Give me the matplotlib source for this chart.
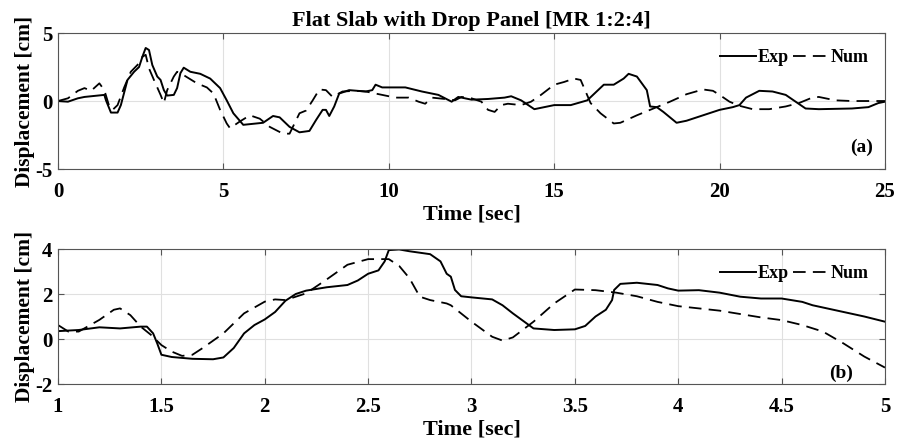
import matplotlib.pyplot as plt
import numpy as np

plt.rcParams['font.family'] = ['Liberation Serif', 'DejaVu Serif']
plt.rcParams['font.weight'] = 'bold'

# panel (a): full record
t_exp_a = [0, 0.3, 0.6, 0.8, 1.2, 1.4, 1.45, 1.6, 1.8, 1.9, 2.1, 2.3, 2.45, 2.55, 2.65, 2.75, 2.85,
           3.0, 3.1, 3.2, 3.3, 3.5, 3.6, 3.7, 3.8, 4.0, 4.3, 4.6, 4.9, 5.1, 5.3, 5.6, 5.8, 6.2, 6.5,
           6.7, 7.0, 7.3, 7.6, 7.8, 8.0, 8.1, 8.2, 8.35, 8.5, 8.8, 9.3, 9.5, 9.6, 9.8, 10.5, 11.0,
           11.5, 11.9, 12.1, 12.5, 13.0, 13.5, 13.7, 14.0, 14.4, 14.8, 15.0, 15.5, 16.0, 16.5, 16.8,
           17.1, 17.25, 17.5, 17.8, 17.9, 18.1, 18.3, 18.7, 19.0, 19.5, 20.0, 20.4, 20.6, 20.8, 21.2,
           21.6, 22.0, 22.3, 22.6, 23.0, 24.0, 24.5, 24.8, 25.0]
d_exp_a = [0, -0.05, 0.2, 0.3, 0.4, 0.45, 0.05, -0.85, -0.85, -0.3, 1.55, 2.15, 2.5, 3.25, 3.9, 3.75,
           2.65, 1.8, 1.55, 0.8, 0.4, 0.45, 0.95, 2.05, 2.45, 2.15, 2.0, 1.65, 0.95, 0.05, -0.9,
           -1.75, -1.7, -1.6, -1.1, -1.2, -1.9, -2.3, -2.2, -1.4, -0.65, -0.65, -1.1, -0.4, 0.55,
           0.8, 0.7, 0.8, 1.2, 1.0, 1.0, 0.7, 0.45, -0.05, 0.3, 0.1, 0.15, 0.25, 0.35, 0.05, -0.6,
           -0.4, -0.3, -0.3, 0.05, 1.2, 1.2, 1.65, 2.0, 1.8, 0.8, -0.4, -0.45, -0.8, -1.6, -1.45,
           -1.05, -0.65, -0.45, -0.3, 0.25, 0.75, 0.7, 0.45, -0.05, -0.55, -0.6, -0.55, -0.45,
           -0.15, -0.05]

t_num_a = [0, 0.3, 0.6, 0.8, 1.0, 1.25, 1.4, 1.55, 1.65, 1.8, 2.0, 2.2, 2.4, 2.55, 2.65, 2.75, 2.9,
           3.1, 3.2, 3.3, 3.5, 3.6, 3.8, 4.2, 4.5, 4.7, 4.9, 5.1, 5.2, 5.5, 5.8, 6.1, 6.4, 6.8, 7.0,
           7.3, 7.5, 7.7, 7.9, 8.1, 8.3, 8.6, 9.0, 9.3, 9.7, 10.2, 10.6, 10.9, 11.1, 11.3, 11.7,
           12.0, 12.2, 12.5, 12.8, 13.0, 13.2, 13.4, 13.6, 14.0, 14.3, 14.6, 15.0, 15.3, 15.6, 15.8,
           16.1, 16.4, 16.8, 17.0, 17.5, 18.0, 18.5, 19.0, 19.5, 19.8, 20.0, 20.3, 20.6, 21.0, 21.5,
           22.0, 22.4, 22.8, 23.0, 23.5, 24.0, 25.0]
d_num_a = [0, 0.2, 0.75, 0.95, 0.75, 1.3, 0.8, -0.4, -0.65, -0.3, 1.0, 2.15, 2.65, 3.25, 3.4, 2.4,
           1.55, 0.45, -0.15, 0.8, 1.8, 2.15, 1.9, 1.3, 1.0, 0.55, -0.65, -1.65, -2.0, -1.5, -1.05,
           -1.3, -1.9, -2.4, -2.4, -0.9, -0.7, 0.05, 0.85, 0.8, 0.3, 0.7, 0.75, 0.7, 0.5, 0.25,
           0.25, -0.05, -0.2, 0.25, 0.15, 0.05, 0.3, 0.2, -0.05, -0.65, -0.8, -0.3, -0.2, -0.3,
           -0.05, 0.45, 1.2, 1.4, 1.65, 1.55, -0.15, -0.9, -1.65, -1.6, -1.05, -0.55, -0.05, 0.5,
           0.85, 0.75, 0.45, -0.05, -0.35, -0.6, -0.6, -0.4, -0.15, 0.25, 0.3, 0.05, 0, 0]

# panel (b): zoom 1-5 s
t_exp_b = [1.0, 1.1, 1.2, 1.3, 1.4, 1.43, 1.46, 1.48, 1.5, 1.55, 1.65, 1.75, 1.8, 1.85, 1.9, 1.95,
           2.0, 2.05, 2.1, 2.15, 2.2, 2.3, 2.4, 2.45, 2.5, 2.55, 2.58, 2.6, 2.65, 2.7, 2.8, 2.85,
           2.88, 2.9, 2.92, 2.95, 3.0, 3.1, 3.15, 3.2, 3.3, 3.4, 3.5, 3.55, 3.6, 3.65, 3.68, 3.69,
           3.72, 3.8, 3.9, 3.95, 4.0, 4.1, 4.2, 4.3, 4.4, 4.5, 4.6, 4.65, 4.8, 4.9, 5.0]
d_exp_b = [0.35, 0.4, 0.52, 0.47, 0.55, 0.55, 0.25, -0.2, -0.7, -0.8, -0.88, -0.9, -0.82, -0.4,
           0.25, 0.62, 0.87, 1.2, 1.7, 2.0, 2.15, 2.3, 2.4, 2.6, 2.9, 3.05, 3.45, 3.95, 3.98, 3.9,
           3.77, 3.45, 2.9, 2.77, 2.18, 1.9, 1.85, 1.76, 1.5, 1.14, 0.47, 0.4, 0.43, 0.58, 1.0, 1.3,
           1.73, 2.18, 2.45, 2.5, 2.4, 2.25, 2.15, 2.17, 2.06, 1.88, 1.8, 1.8, 1.65, 1.5, 1.2, 1.0,
           0.77]

t_num_b = [1.0, 1.05, 1.1, 1.2, 1.27, 1.3, 1.35, 1.4, 1.45, 1.5, 1.55, 1.6, 1.65, 1.7, 1.8, 1.9,
           2.0, 2.05, 2.1, 2.2, 2.3, 2.4, 2.5, 2.6, 2.65, 2.7, 2.75, 2.8, 2.88, 2.9, 3.0, 3.1, 3.15,
           3.2, 3.3, 3.4, 3.5, 3.6, 3.7, 3.8, 3.9, 4.0, 4.2, 4.4, 4.5, 4.6, 4.7, 4.8, 4.9, 5.0]
d_num_b = [0.62, 0.33, 0.33, 0.85, 1.3, 1.36, 1.06, 0.55, 0.18, -0.27, -0.56, -0.75, -0.7, -0.4,
           0.25, 1.14, 1.66, 1.76, 1.73, 2.03, 2.65, 3.3, 3.55, 3.55, 3.25, 2.7, 1.88, 1.73, 1.58,
           1.5, 0.77, 0.1, -0.07, 0.07, 0.77, 1.58, 2.2, 2.17, 2.06, 1.9, 1.65, 1.46, 1.26, 0.96,
           0.84, 0.62, 0.33, -0.2, -0.78, -1.27]


def style_axes(ax, xlim, ylim, xticks, yticks, tag, tag_pos):
    ax.set_xlim(xlim)
    ax.set_ylim(ylim)
    ax.set_xticks(xticks)
    ax.set_yticks(yticks)
    ax.set_xticklabels([f'{v:g}' for v in xticks])
    ax.set_yticklabels([f'{v:g}' for v in yticks])
    ax.grid(True, color='#e0e0e0', linewidth=0.8)
    ax.tick_params(direction='in', top=True, right=True, labelsize=15, length=4,
                   color='#555555')
    ax.tick_params(axis='x', pad=9)
    ax.tick_params(axis='y', pad=4)
    for lbl in ax.get_xticklabels() + ax.get_yticklabels():
        lbl.set_fontweight('bold')
    for s in ax.spines.values():
        s.set_color('#555555')
        s.set_linewidth(0.8)
    ax.set_xlabel('Time [sec]', fontsize=16, fontweight='bold', labelpad=2)
    ax.set_ylabel('Displacement [cm]', fontsize=15.5, fontweight='bold', labelpad=0)
    ax.legend(loc='upper right', ncol=2, frameon=False, handlelength=2.0, handletextpad=0.1,
              columnspacing=0.2, prop={'size': 13, 'weight': 'bold'}, borderaxespad=0.5)
    ax.text(tag_pos[0], tag_pos[1], tag, transform=ax.transAxes, ha='right', va='center',
            fontsize=14, fontweight='bold')


fig = plt.figure(figsize=(9.01, 4.46), dpi=100)
ax1 = fig.add_axes([0.0644, 0.621, 0.9178, 0.305])
ax2 = fig.add_axes([0.0644, 0.139, 0.9178, 0.3027])

ax1.plot(t_exp_a, d_exp_a, color='black', lw=1.4, label='Exp')
ax1.plot(t_num_a, d_num_a, color='black', lw=1.3, ls=(0, (7, 4)), label='Num')
style_axes(ax1, (0, 25), (-5, 5), [0, 5, 10, 15, 20, 25], [-5, 0, 5], '(a)', (0.985, 0.16))
ax1.set_title('Flat Slab with Drop Panel [MR 1:2:4]', fontsize=16, fontweight='bold', pad=5)

ax2.plot(t_exp_b, d_exp_b, color='black', lw=1.4, label='Exp')
ax2.plot(t_num_b, d_num_b, color='black', lw=1.3, ls=(0, (7, 4)), label='Num')
style_axes(ax2, (1, 5), (-2, 4), [1, 1.5, 2, 2.5, 3, 3.5, 4, 4.5, 5], [-2, 0, 2, 4], '(b)',
           (0.961, 0.08))

fig.savefig('out.png', dpi=100)
